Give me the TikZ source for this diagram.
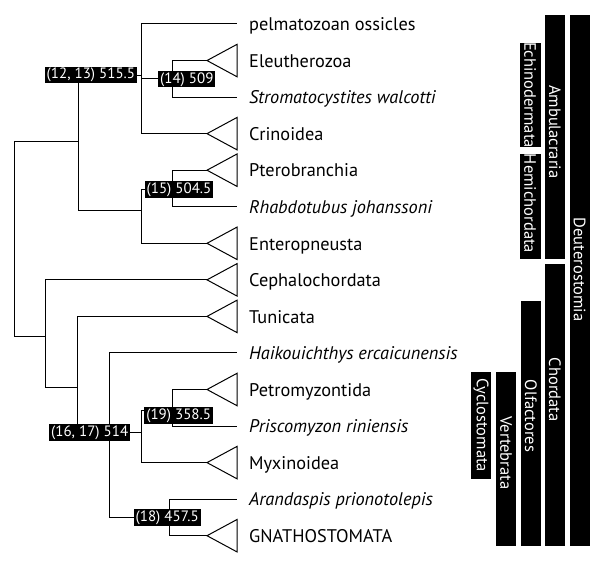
\documentclass[tikz,border=0pt]{standalone}
\usepackage{fontspec}
\setmainfont{PT Sans}
\begin{document}
\begin{tikzpicture}
[
x=1bp, y=-1bp,
Branch/.style={draw=black, line width=1bp},
Clade/.style={draw=black, line width=1bp, fill=white},
Taxon/.style={anchor=base west, inner sep=0pt, yshift=-6.8bp, font=\fontsize{18.3bp}{21bp}\selectfont},
FossilTaxon/.style={Taxon, font=\fontsize{18.3bp}{21bp}\selectfont\itshape},
DateBox/.style={rectangle, fill=black, text=white, inner xsep=2bp, inner ysep=1.8bp, text height=10.5bp, text depth=2.5bp, font=\fontsize{15bp}{17bp}\selectfont},
CladeBar/.style={fill=black},
BarText/.style={text=white, rotate=-90, inner sep=0pt, font=\fontsize{16.5bp}{18bp}\selectfont},
]

\useasboundingbox (0,0) rectangle (595,567);

\coordinate (pelm)   at (237,24);
\coordinate (eleu)   at (207,60.55);
\coordinate (strom)  at (237,97.1);
\coordinate (crin)   at (207,133.65);
\coordinate (ptero)  at (207,170.2);
\coordinate (rhab)   at (237,206.75);
\coordinate (entero) at (207,243.3);
\coordinate (ceph)   at (207,279.85);
\coordinate (tuni)   at (207,316.4);
\coordinate (haik)   at (237,352.95);
\coordinate (petro)  at (207,389.5);
\coordinate (prisc)  at (237,426.05);
\coordinate (myxi)   at (207,462.6);
\coordinate (arand)  at (237,499.15);
\coordinate (gnath)  at (207,535.7);

\coordinate (deut)       at (14,336);
\coordinate (ambu)       at (78,141.7);
\coordinate (echi)       at (141.7,76);
\coordinate (eleustrom)  at (172.7,79);
\coordinate (hemi)       at (141.7,210);
\coordinate (pterorhab)  at (172.7,189);
\coordinate (chor)       at (45.3,336);
\coordinate (olfa)       at (77.3,387.7);
\coordinate (vert)       at (109.3,432);
\coordinate (cycl)       at (141.7,432);
\coordinate (petroprisc) at (172.7,410);
\coordinate (gnatharand) at (169.7,517.3);

\draw[Branch] (deut) |- (ambu);
\draw[Branch] (deut) |- (chor);
\draw[Branch] (ambu) |- (echi);
\draw[Branch] (ambu) |- (hemi);
\draw[Branch] (echi) |- (pelm);
\draw[Branch] (echi) |- (eleustrom);
\draw[Branch] (echi) |- (crin);
\draw[Branch] (eleustrom) |- (eleu);
\draw[Branch] (eleustrom) |- (strom);
\draw[Branch] (hemi) |- (pterorhab);
\draw[Branch] (hemi) |- (entero);
\draw[Branch] (pterorhab) |- (ptero);
\draw[Branch] (pterorhab) |- (rhab);
\draw[Branch] (chor) |- (ceph);
\draw[Branch] (chor) |- (olfa);
\draw[Branch] (olfa) |- (tuni);
\draw[Branch] (olfa) |- (vert);
\draw[Branch] (vert) |- (haik);
\draw[Branch] (vert) |- (cycl);
\draw[Branch] (vert) |- (gnatharand);
\draw[Branch] (cycl) |- (petroprisc);
\draw[Branch] (cycl) |- (myxi);
\draw[Branch] (petroprisc) |- (petro);
\draw[Branch] (petroprisc) |- (prisc);
\draw[Branch] (gnatharand) |- (arand);
\draw[Branch] (gnatharand) |- (gnath);

\draw[Clade] (eleu)   -- ++(30,-16.2) -- ++(0,32.4) -- cycle;
\draw[Clade] (crin)   -- ++(30,-16.2) -- ++(0,32.4) -- cycle;
\draw[Clade] (ptero)  -- ++(30,-16.2) -- ++(0,32.4) -- cycle;
\draw[Clade] (entero) -- ++(30,-16.2) -- ++(0,32.4) -- cycle;
\draw[Clade] (ceph)   -- ++(30,-16.2) -- ++(0,32.4) -- cycle;
\draw[Clade] (tuni)   -- ++(30,-16.2) -- ++(0,32.4) -- cycle;
\draw[Clade] (petro)  -- ++(30,-16.2) -- ++(0,32.4) -- cycle;
\draw[Clade] (myxi)   -- ++(30,-16.2) -- ++(0,32.4) -- cycle;
\draw[Clade] (gnath)  -- ++(30,-16.2) -- ++(0,32.4) -- cycle;

\node[DateBox] (d1213) at (90.9,75)    {(12, 13) 515.5};
\node[DateBox] (d14)   at (186.8,79.2) {(14) 509};
\node[DateBox] (d15)   at (179,189.5)  {(15) 504.5};
\node[DateBox] (d1617) at (89.7,432.2) {(16, 17) 514};
\node[DateBox] (d19)   at (178.7,415.5){(19) 358.5};
\node[DateBox] (d18)   at (167.2,517.2){(18) 457.5};

\node[Taxon]       (tpelm)   at (249,24)     {pelmatozoan ossicles};
\node[Taxon]       (teleu)   at (249,60.55)  {Eleutherozoa};
\node[FossilTaxon] (tstrom)  at (249,97.1)   {Stromatocystites walcotti};
\node[Taxon]       (tcrin)   at (249,133.65) {Crinoidea};
\node[Taxon]       (tptero)  at (249,170.2)  {Pterobranchia};
\node[FossilTaxon] (trhab)   at (249,206.75) {Rhabdotubus johanssoni};
\node[Taxon]       (tentero) at (249,243.3)  {Enteropneusta};
\node[Taxon]       (tceph)   at (249,279.85) {Cephalochordata};
\node[Taxon]       (ttuni)   at (249,316.4)  {Tunicata};
\node[FossilTaxon] (thaik)   at (249,352.95) {Haikouichthys ercaicunensis};
\node[Taxon]       (tpetro)  at (249,389.5)  {Petromyzontida};
\node[FossilTaxon] (tprisc)  at (249,426.05) {Priscomyzon riniensis};
\node[Taxon]       (tmyxi)   at (249,462.6)  {Myxinoidea};
\node[FossilTaxon] (tarand)  at (249,499.15) {Arandaspis prionotolepis};
\node[Taxon]       (tgnath)  at (249,535.7)  {GNATHOSTOMATA};

\path[CladeBar] (569.5,15) rectangle (589.5,546);
\path[CladeBar] (545,15) rectangle (565,259.3);
\path[CladeBar] (545,264.3) rectangle (565,546);
\path[CladeBar] (520,42.7) rectangle (540.5,146.7);
\path[CladeBar] (520,154.3) rectangle (540.5,259.3);
\path[CladeBar] (521,301) rectangle (541,546);
\path[CladeBar] (496,372.3) rectangle (516,546);
\path[CladeBar] (471,372.3) rectangle (491,479);

\node[BarText] (bdeut) at (579.5,269.5) {Deuterostomia};
\node[BarText] (bambu) at (555,131.7)   {Ambulacraria};
\node[BarText] (bchor) at (555,389.7)   {Chordata};
\node[BarText] (bechi) at (530.2,95)    {Echinodermata};
\node[BarText] (bhemi) at (530.2,203.5) {Hemichordata};
\node[BarText] (bolfa) at (531,416)     {Olfactores};
\node[BarText] (bvert) at (506,452.8)   {Vertebrata};
\node[BarText] (bcycl) at (481,425)     {Cyclostomata};

\end{tikzpicture}
\end{document}
